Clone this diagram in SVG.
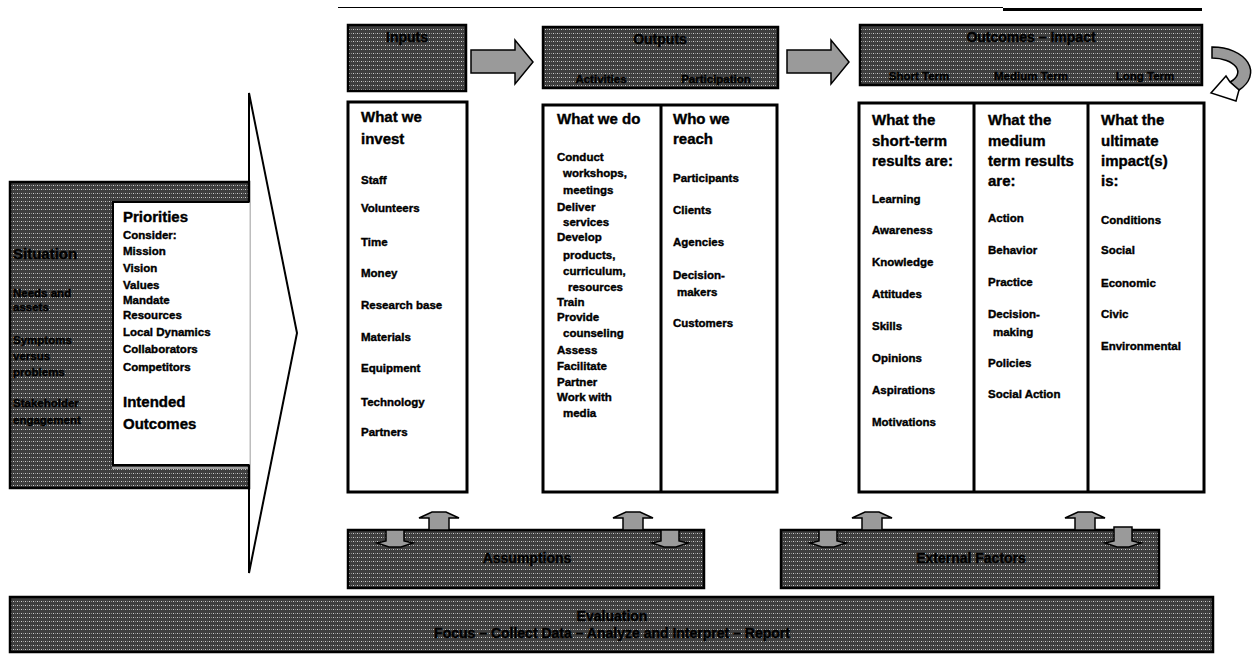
<svg xmlns="http://www.w3.org/2000/svg" width="1254" height="654" viewBox="0 0 1254 654">
<defs>
<pattern id="dots" width="4" height="4" patternUnits="userSpaceOnUse">
<rect width="4" height="4" fill="#3e3e3e"/>
<rect x="1" y="1" width="1" height="1" fill="#d0d0d0"/>
<rect x="3" y="1" width="1" height="1" fill="#8a8a8a"/>
</pattern>
<style>
.pat{fill:url(#dots);stroke:#000;stroke-width:2.5}
.col{fill:#fff;stroke:#000;stroke-width:3}
.div{stroke:#000;stroke-width:3}
.t{font-family:"Liberation Sans",Arial,sans-serif;font-weight:bold;fill:#000;stroke:#000;stroke-width:0.4}
.h{font-size:15px}
.hh{font-size:14px}
.s{font-size:11.5px}
.c{text-anchor:middle}
.arr{fill:#9a9a9a;stroke:#000;stroke-width:1.5;stroke-linejoin:miter}
.ln{fill:none;stroke:#000;stroke-width:2}
</style>
</defs>
<rect width="1254" height="654" fill="#fff"/>

<g id="top-rule">
<line x1="338" y1="7.5" x2="1003" y2="7.5" stroke="#000" stroke-width="1.2"/>
<line x1="1003" y1="9.5" x2="1202" y2="9.5" stroke="#000" stroke-width="3"/>
</g>

<g id="situation">
<rect class="pat" x="10" y="182" width="239" height="306" stroke-width="3"/>
<text class="t h" x="13" y="259">Situation</text>
<text class="t s" x="13" y="297">Needs and</text>
<text class="t s" x="13" y="311">assets</text>
<text class="t s" x="13" y="344">Symptoms</text>
<text class="t s" x="13" y="360">versus</text>
<text class="t s" x="13" y="376">problems</text>
<text class="t s" x="13" y="407">Stakeholder</text>
<text class="t s" x="13" y="424">engagement</text>
</g>
<g id="priorities">
<rect x="113" y="202" width="137" height="263" fill="#fff"/>
<path d="M250,202 H113 V465 H250" class="ln" stroke-width="3"/>
<line x1="250" y1="202" x2="250" y2="465" stroke="#bbb" stroke-width="1"/>
<line x1="112" y1="468" x2="248" y2="468" stroke="#fff" stroke-width="1.2"/>
<text class="t h" x="123" y="222">Priorities</text>
<text class="t s" x="123" y="239">Consider:</text>
<text class="t s" x="123" y="255">Mission</text>
<text class="t s" x="123" y="272">Vision</text>
<text class="t s" x="123" y="289">Values</text>
<text class="t s" x="123" y="304">Mandate</text>
<text class="t s" x="123" y="319">Resources</text>
<text class="t s" x="123" y="336">Local Dynamics</text>
<text class="t s" x="123" y="353">Collaborators</text>
<text class="t s" x="123" y="371">Competitors</text>
<text class="t h" x="123" y="407">Intended</text>
<text class="t h" x="123" y="429">Outcomes</text>
</g>
<g id="chevron">
<polyline class="ln" points="249,182 249,93 297,333 249,573 249,488"/>
</g>

<g id="inputs-header">
<rect class="pat" x="348" y="25" width="118" height="66"/>
<text class="t hh c" x="407" y="42">Inputs</text>
</g>
<g id="outputs-header">
<rect class="pat" x="543" y="27" width="235" height="61"/>
<text class="t hh c" x="660" y="44">Outputs</text>
<text class="t s c" x="601" y="83">Activities</text>
<text class="t s c" x="716" y="83">Participation</text>
</g>
<g id="outcomes-header">
<rect class="pat" x="860" y="25" width="342" height="60"/>
<text class="t hh c" x="1031" y="42">Outcomes – Impact</text>
<text class="t s c" x="919" y="80">Short Term</text>
<text class="t s c" x="1031" y="80">Medium Term</text>
<text class="t s c" x="1145" y="80">Long Term</text>
</g>

<g id="inputs-column">
<rect class="col" x="348" y="102" width="119" height="390"/>
<text class="t h" x="361" y="122">What we</text>
<text class="t h" x="361" y="144">invest</text>
<text class="t s" x="361" y="184">Staff</text>
<text class="t s" x="361" y="212">Volunteers</text>
<text class="t s" x="361" y="246">Time</text>
<text class="t s" x="361" y="277">Money</text>
<text class="t s" x="361" y="309">Research base</text>
<text class="t s" x="361" y="341">Materials</text>
<text class="t s" x="361" y="372">Equipment</text>
<text class="t s" x="361" y="406">Technology</text>
<text class="t s" x="361" y="436">Partners</text>
</g>
<g id="outputs-column">
<rect class="col" x="543" y="105" width="234" height="387"/>
<line class="div" x1="661" y1="105" x2="661" y2="492"/>
</g>
<g id="activities">
<text class="t h" x="557" y="124">What we do</text>
<text class="t s" x="557" y="161">Conduct</text>
<text class="t s" x="563" y="177">workshops,</text>
<text class="t s" x="563" y="194">meetings</text>
<text class="t s" x="557" y="211">Deliver</text>
<text class="t s" x="563" y="226">services</text>
<text class="t s" x="557" y="241">Develop</text>
<text class="t s" x="563" y="259">products,</text>
<text class="t s" x="563" y="275">curriculum,</text>
<text class="t s" x="568" y="291">resources</text>
<text class="t s" x="557" y="306">Train</text>
<text class="t s" x="557" y="321">Provide</text>
<text class="t s" x="563" y="337">counseling</text>
<text class="t s" x="557" y="354">Assess</text>
<text class="t s" x="557" y="370">Facilitate</text>
<text class="t s" x="557" y="386">Partner</text>
<text class="t s" x="557" y="401">Work with</text>
<text class="t s" x="563" y="417">media</text>
</g>
<g id="participation">
<text class="t h" x="673" y="124">Who we</text>
<text class="t h" x="673" y="144">reach</text>
<text class="t s" x="673" y="182">Participants</text>
<text class="t s" x="673" y="214">Clients</text>
<text class="t s" x="673" y="246">Agencies</text>
<text class="t s" x="673" y="279">Decision-</text>
<text class="t s" x="677" y="296">makers</text>
<text class="t s" x="673" y="327">Customers</text>
</g>
<g id="outcomes-column">
<rect class="col" x="859" y="103" width="345" height="389"/>
<line class="div" x1="974" y1="103" x2="974" y2="492"/>
<line class="div" x1="1088" y1="103" x2="1088" y2="492"/>
</g>
<g id="short-term">
<text class="t h" x="872" y="125">What the</text>
<text class="t h" x="872" y="146">short-term</text>
<text class="t h" x="872" y="166">results are:</text>
<text class="t s" x="872" y="203">Learning</text>
<text class="t s" x="872" y="234">Awareness</text>
<text class="t s" x="872" y="266">Knowledge</text>
<text class="t s" x="872" y="298">Attitudes</text>
<text class="t s" x="872" y="330">Skills</text>
<text class="t s" x="872" y="362">Opinions</text>
<text class="t s" x="872" y="394">Aspirations</text>
<text class="t s" x="872" y="426">Motivations</text>
</g>
<g id="medium-term">
<text class="t h" x="988" y="125">What the</text>
<text class="t h" x="988" y="146">medium</text>
<text class="t h" x="988" y="166">term results</text>
<text class="t h" x="988" y="186">are:</text>
<text class="t s" x="988" y="222">Action</text>
<text class="t s" x="988" y="254">Behavior</text>
<text class="t s" x="988" y="286">Practice</text>
<text class="t s" x="988" y="318">Decision-</text>
<text class="t s" x="993" y="336">making</text>
<text class="t s" x="988" y="367">Policies</text>
<text class="t s" x="988" y="398">Social Action</text>
</g>
<g id="long-term">
<text class="t h" x="1101" y="125">What the</text>
<text class="t h" x="1101" y="146">ultimate</text>
<text class="t h" x="1101" y="166">impact(s)</text>
<text class="t h" x="1101" y="186">is:</text>
<text class="t s" x="1101" y="224">Conditions</text>
<text class="t s" x="1101" y="254">Social</text>
<text class="t s" x="1101" y="287">Economic</text>
<text class="t s" x="1101" y="318">Civic</text>
<text class="t s" x="1101" y="350">Environmental</text>
</g>

<g id="assumptions">
<rect class="pat" x="348" y="530" width="356" height="58"/>
<text class="t hh c" x="527" y="563">Assumptions</text>
</g>
<g id="external-factors">
<rect class="pat" x="781" y="530" width="378" height="58"/>
<text class="t hh c" x="971" y="563">External Factors</text>
</g>
<g id="evaluation">
<rect class="pat" x="10" y="597" width="1203" height="55" stroke-width="3"/>
<text class="t hh c" x="612" y="621">Evaluation</text>
<text class="t hh c" x="612" y="638">Focus – Collect Data – Analyze and Interpret – Report</text>
</g>

<g id="connectors">
<polygon class="arr" points="471,50 515,50 515,40 533,62 515,84 515,73 471,73"/>
<polygon class="arr" points="787,50 831,50 831,40 849,62 831,84 831,73 787,73"/>
<path class="arr" d="M1212,47 A38,25 0 0 1 1239,90 L1230,82 A26,14 0 0 0 1212,58 Z"/>
<polygon class="arr" style="fill:#fff" points="1230,82 1226,76 1211,93 1236,101 1239,90"/>
<polygon class="arr" points="429,530 429,518 419,518 432,512 446,512 459,518 449,518 449,530"/>
<polygon class="arr" points="623,530 623,518 613,518 626,512 640,512 653,518 643,518 643,530"/>
<polygon class="arr" points="862,530 862,518 852,518 865,512 879,512 892,518 882,518 882,530"/>
<polygon class="arr" points="1075,530 1075,518 1065,518 1078,512 1092,512 1105,518 1095,518 1095,530"/>
<polygon class="arr" points="386,530 404,530 404,541 413,543 401,547 389,547 377,543 386,541"/>
<polygon class="arr" points="661,530 679,530 679,541 688,543 676,547 664,547 652,543 661,541"/>
<polygon class="arr" points="819,530 837,530 837,541 846,543 834,547 822,547 810,543 819,541"/>
<polygon class="arr" points="1114,527 1132,527 1132,541 1141,543 1129,547 1117,547 1105,543 1114,541"/>
</g>
</svg>
